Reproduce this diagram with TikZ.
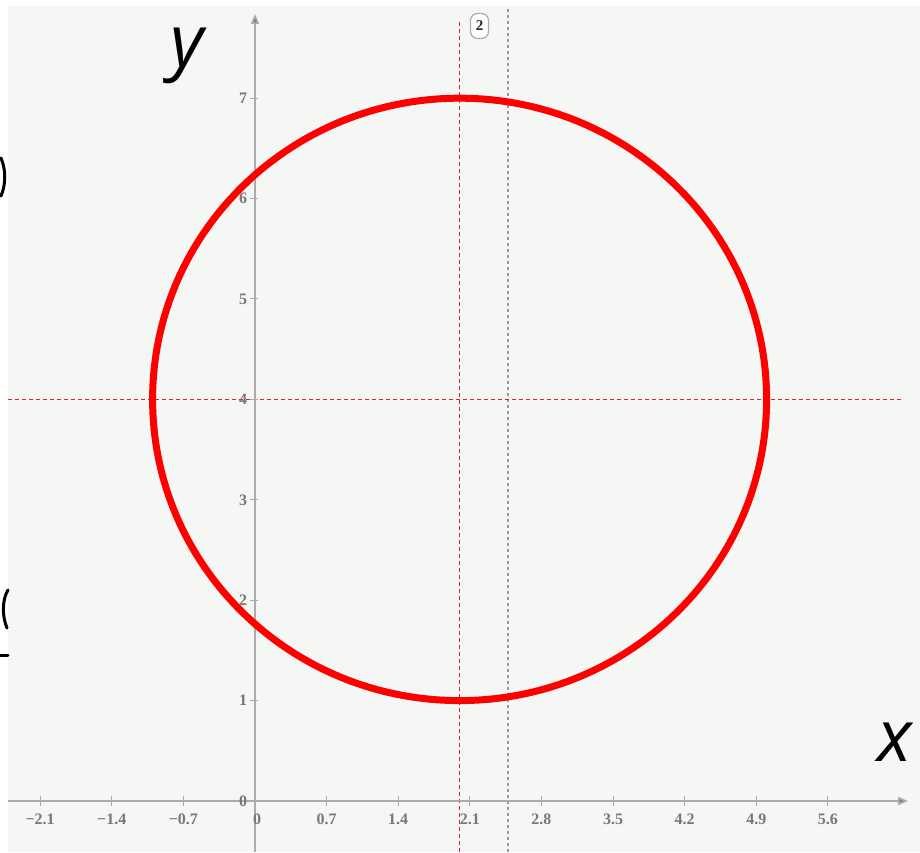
\documentclass[tikz,border=0pt]{standalone}
\usepackage{fontspec}
\setmainfont{Liberation Serif}
\newfontfamily\labfont{Open Sans}
\usetikzlibrary{arrows.meta}
\definecolor{bg}{HTML}{F4F7F4}
\definecolor{axisgray}{HTML}{ABABAB}
\definecolor{ticklab}{HTML}{777777}
\definecolor{guideredc}{RGB}{215,35,35}
\definecolor{dotgray}{HTML}{9A9A9A}
\tikzset{
  axisline/.style={draw=axisgray, line width=1.6pt, -{Triangle[length=10pt,width=8pt,fill=gray]}},
  tickmark/.style={draw=axisgray, line width=1pt},
  ticklabel/.style={text=ticklab, font=\fontsize{16}{16}\selectfont\bfseries, inner sep=0pt},
  guidered/.style={fill=guideredc},
  guidegray/.style={fill=dotgray},
  curve/.style={draw=red, line width=7pt},
  axlabel/.style={font=\labfont\itshape\fontsize{72}{72}\selectfont, inner sep=0pt, anchor=base},
  frag/.style={draw=black, line width=3pt, line cap=round}
}
\begin{document}
\begin{tikzpicture}[x=1pt,y=1pt]
\useasboundingbox (0,0) rectangle (920,852);
\fill[white] (0,0) rectangle (920,852);
\fill[bg] (8,0) rectangle (920,846);
% fragments at the left border
\draw[frag] (1,694) .. controls (6,682) and (6,668) .. (1,656);
\draw[frag] (8,262) .. controls (2,252) and (2,236) .. (7,224);
\draw[frag] (0,197) -- (8,197);
% guide lines (dashes drawn as small filled bars)
\foreach \s in {0,6,...,840}{
  \fill[guidegray] (507.1,\s) rectangle (508.9,{\s+3});
}
\foreach \s in {0,7,...,830}{
  \fill[guidered] (458.9,\s) rectangle (460.3,{\s+4});
}
\foreach \s in {8,15,...,900}{
  \fill[guidered] (\s,451.9) rectangle ({\s+4},453.3);
}
% axes
\draw[axisline] (8,51) -- (908,51);
\draw[axisline] (255,0) -- (255,838);
% x ticks
\foreach \v/\t [count=\i] in {-2.1/{−2.1},-1.4/{−1.4},-0.7/{−0.7},0.7/0.7,1.4/1.4,2.1/2.1,2.8/2.8,3.5/3.5,4.2/4.2,4.9/4.9,5.6/5.6}{
  \draw[tickmark] ({255+\v*102.3},46) -- ({255+\v*102.3},56);
  \node[ticklabel] (xt\i) at ({255+\v*102.3},33) {\t};
}
\node[ticklabel] (xt0) at (257,33) {0};
% y ticks
\foreach \v in {0,1,...,7}{
  \draw[tickmark] (250,{51+\v*100.4}) -- (258,{51+\v*100.4});
  \node[ticklabel] (yt\v) at (243,{51+\v*100.4}) {\v};
}
% circle
\draw[curve] (459.6,452.6) ellipse [x radius=307, y radius=301.2];
% label box
\node[draw=axisgray, line width=1.2pt, rounded corners=7pt, fill=white, text=black!85, font=\fontsize{15}{15}\selectfont\bfseries, minimum width=18pt, minimum height=25pt, inner sep=0pt] (lbl) at (479.5,826) {2};
% axis labels
\node[axlabel] (ylab) at (187,785) {y};
\node[axlabel] (xlab) at (895,91) {x};
\end{tikzpicture}
\end{document}
